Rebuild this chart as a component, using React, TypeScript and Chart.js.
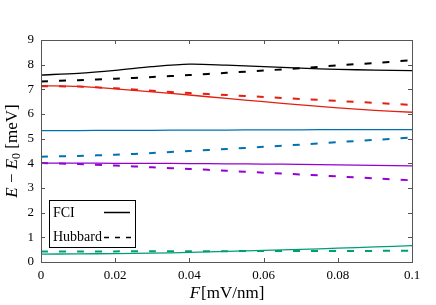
import React, { useEffect, useRef } from "react";
import { Chart, registerables } from "chart.js";

Chart.register(...registerables);

const F = [0, 0.01, 0.02, 0.03, 0.04, 0.05, 0.06, 0.07, 0.08, 0.09, 0.1];

const fciBlack = [7.58, 7.65, 7.77, 7.92, 8.02, 7.98, 7.92, 7.86, 7.81, 7.78, 7.76];
const hubBlack = [7.32, 7.37, 7.43, 7.5, 7.58, 7.67, 7.76, 7.86, 7.97, 8.07, 8.18];
const fciRed = [7.15, 7.12, 7.02, 6.9, 6.77, 6.63, 6.5, 6.37, 6.25, 6.15, 6.07];
const hubRed = [7.13, 7.11, 7.04, 6.94, 6.85, 6.77, 6.69, 6.61, 6.53, 6.45, 6.37];
const fciBlue = [5.33, 5.33, 5.34, 5.34, 5.35, 5.35, 5.36, 5.36, 5.37, 5.37, 5.37];
const hubBlue = [4.27, 4.3, 4.35, 4.42, 4.5, 4.58, 4.67, 4.76, 4.86, 4.95, 5.05];
const fciPurple = [4.01, 4.01, 4.0, 4.0, 3.99, 3.98, 3.97, 3.96, 3.94, 3.92, 3.9];
const hubPurple = [4.01, 3.97, 3.91, 3.84, 3.77, 3.7, 3.62, 3.55, 3.47, 3.39, 3.31];
const fciGreen = [0.32, 0.33, 0.34, 0.36, 0.39, 0.43, 0.47, 0.51, 0.56, 0.61, 0.66];
const hubGreen = [0.43, 0.43, 0.43, 0.44, 0.44, 0.44, 0.45, 0.45, 0.45, 0.45, 0.46];

const xTicks = [0, 0.02, 0.04, 0.06, 0.08, 0.1];
const xTickLabels = ["0", "0.02", "0.04", "0.06", "0.08", "0.1"];
const yTicks = [0, 1, 2, 3, 4, 5, 6, 7, 8, 9];

const legendLabels = ["FCI", "Hubbard"];

const SERIF = "'Liberation Serif', 'Times New Roman', serif";

function pts(ys: number[]) {
  return F.map((x, i) => ({ x, y: ys[i] }));
}

export default function App() {
  const ref = useRef<HTMLCanvasElement | null>(null);

  useEffect(() => {
    if (!ref.current) return;
    const solid = (c: string, ys: number[]) => ({
      data: pts(ys),
      borderColor: c,
      borderWidth: 1.3,
      pointRadius: 0,
      tension: 0.3,
      fill: false,
    });
    const dashed = (c: string, ys: number[]) => ({
      data: pts(ys),
      borderColor: c,
      borderWidth: 2,
      borderDash: [7, 11],
      pointRadius: 0,
      tension: 0.3,
      fill: false,
    });

    const decor = {
      id: "decor",
      afterDatasetsDraw(chart: any) {
        const ctx = chart.ctx as CanvasRenderingContext2D;
        const { left, right, top, bottom } = chart.chartArea;
        const xs = chart.scales.x;
        const ys = chart.scales.y;
        ctx.save();
        // frame
        ctx.strokeStyle = "#555";
        ctx.lineWidth = 1;
        ctx.strokeRect(left + 0.5, top + 0.5, right - left, bottom - top);
        // inward ticks
        ctx.beginPath();
        const tl = 4;
        xTicks.forEach((v) => {
          const px = Math.round(xs.getPixelForValue(v)) + 0.5;
          ctx.moveTo(px, bottom);
          ctx.lineTo(px, bottom - tl);
          ctx.moveTo(px, top);
          ctx.lineTo(px, top + tl);
        });
        yTicks.forEach((v) => {
          const py = Math.round(ys.getPixelForValue(v)) + 0.5;
          ctx.moveTo(left, py);
          ctx.lineTo(left + tl, py);
          ctx.moveTo(right, py);
          ctx.lineTo(right - tl, py);
        });
        ctx.stroke();

        // legend
        const bx = 49.5, by = 200.5, bw = 86, bh = 47;
        ctx.fillStyle = "#fff";
        ctx.fillRect(bx, by, bw, bh);
        ctx.strokeStyle = "#000";
        ctx.lineWidth = 1;
        ctx.strokeRect(bx, by, bw, bh);
        ctx.fillStyle = "#000";
        ctx.font = `14px ${SERIF}`;
        ctx.textBaseline = "middle";
        ctx.textAlign = "left";
        ctx.fillText(legendLabels[0], 53, 213);
        ctx.fillText(legendLabels[1], 53, 237);
        ctx.lineWidth = 1.5;
        ctx.beginPath();
        ctx.moveTo(104, 212.5);
        ctx.lineTo(130, 212.5);
        ctx.stroke();
        ctx.setLineDash([5, 6]);
        ctx.beginPath();
        ctx.moveTo(104, 237.5);
        ctx.lineTo(131, 237.5);
        ctx.stroke();
        ctx.setLineDash([]);

        // x title
        const fs = 17;
        ctx.textBaseline = "middle";
        ctx.textAlign = "left";
        ctx.font = `italic ${fs}px ${SERIF}`;
        const wF = ctx.measureText("F").width;
        ctx.font = `${fs}px ${SERIF}`;
        const wRest = ctx.measureText("[mV/nm]").width;
        const cx = (left + right) / 2;
        let x0 = cx - (wF + wRest) / 2;
        ctx.font = `italic ${fs}px ${SERIF}`;
        ctx.fillText("F", x0, 294);
        ctx.font = `${fs}px ${SERIF}`;
        ctx.fillText("[mV/nm]", x0 + wF + 1, 294);

        // y title (rotated)
        ctx.translate(13, (top + bottom) / 2);
        ctx.rotate(-Math.PI / 2);
        const parts: [string, string, number][] = [
          ["E", "italic", fs],
          [" \u2212 ", "", fs],
          ["E", "italic", fs],
          ["0", "", 12],
          [" [meV]", "", fs],
        ];
        let total = 0;
        const widths = parts.map(([t, st, s]) => {
          ctx.font = `${st} ${s}px ${SERIF}`;
          const w = ctx.measureText(t).width;
          total += w;
          return w;
        });
        let px = -total / 2;
        parts.forEach(([t, st, s], i) => {
          ctx.font = `${st} ${s}px ${SERIF}`;
          ctx.fillText(t, px, s === 12 ? 4 : 0);
          px += widths[i];
        });
        ctx.restore();
      },
    };

    const chart = new Chart(ref.current, {
      type: "line",
      data: {
        datasets: [
          solid("#000000", fciBlack),
          dashed("#000000", hubBlack),
          solid("#e51e10", fciRed),
          dashed("#e51e10", hubRed),
          solid("#0072b2", fciBlue),
          dashed("#0072b2", hubBlue),
          solid("#9400d3", fciPurple),
          dashed("#9400d3", hubPurple),
          solid("#009e73", fciGreen),
          dashed("#009e73", hubGreen),
        ] as any,
      },
      options: {
        animation: false,
        responsive: false,
        layout: { padding: { top: 40, right: 24, left: 0, bottom: 0 } },
        plugins: { legend: { display: false }, tooltip: { enabled: false } },
        scales: {
          x: {
            type: "linear",
            min: 0,
            max: 0.1,
            afterFit: (s: any) => {
              s.height = 43;
            },
            afterBuildTicks: (s: any) => {
              s.ticks = xTicks.map((v) => ({ value: v }));
            },
            grid: { display: false, drawTicks: false },
            border: { display: false },
            ticks: {
              padding: 6,
              color: "#000",
              font: { family: SERIF, size: 13 },
              maxRotation: 0,
              callback: (v: any) => {
                const i = xTicks.findIndex((t) => Math.abs(t - Number(v)) < 1e-9);
                return i >= 0 ? xTickLabels[i] : "";
              },
            },
          },
          y: {
            type: "linear",
            min: 0,
            max: 9,
            afterFit: (s: any) => {
              s.width = 41;
            },
            afterBuildTicks: (s: any) => {
              s.ticks = yTicks.map((v) => ({ value: v }));
            },
            grid: { display: false, drawTicks: false },
            border: { display: false },
            ticks: {
              padding: 7,
              color: "#000",
              font: { family: SERIF, size: 13 },
              callback: (v: any) => String(v),
            },
          },
        },
      },
      plugins: [decor],
    } as any);
    return () => chart.destroy();
  }, []);

  return (
    <div style={{ position: "absolute", left: 0, top: 0, width: 436, height: 305, background: "#fff" }}>
      <canvas ref={ref} width={436} height={305} />
    </div>
  );
}
